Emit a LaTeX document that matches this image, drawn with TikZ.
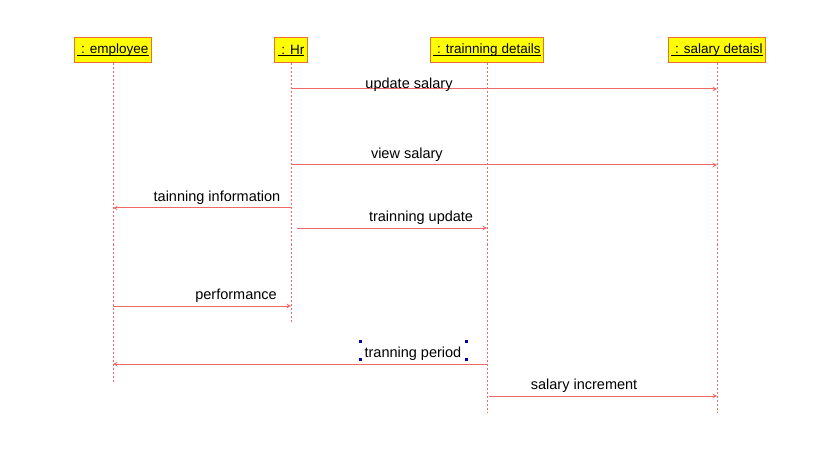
\documentclass[tikz,border=0pt]{standalone}
\usepackage{fontspec}
\setmainfont{Liberation Sans}
\usepackage{tikz}
\usetikzlibrary{shapes, arrows, positioning}
\definecolor{msgred}{RGB}{240,105,105}
\definecolor{boxedge}{RGB}{235,110,50}
\definecolor{boxfill}{RGB}{255,255,0}
\newcommand{\objul}[1]{\setbox0\hbox{#1}\rlap{\rule[-2pt]{\wd0}{0.7pt}}\box0}
\tikzstyle{obj}  = [draw=boxedge, fill=boxfill, line width=1pt, minimum height=25pt, inner xsep=3pt, font=\fontsize{13.5}{16}\selectfont]
\tikzstyle{life} = [draw=msgred, dash pattern=on 2pt off 2pt, line width=1pt]
\tikzstyle{msg}  = [draw=msgred, line width=1pt, -stealth]
\tikzstyle{lbl}  = [anchor=center, yshift=10.5pt, text=black, font=\fontsize{14.5}{17}\selectfont]
\tikzstyle{grip} = [fill=blue!70!black, inner sep=0pt, minimum size=3pt]

\begin{document}
\begin{tikzpicture}[x=1pt, y=-1pt]
\useasboundingbox (0,0) rectangle (826,470);

% objects
\node [obj] at ( 113  , 50.5 ) (emp) {\objul{\ : employee}};
\node [obj] at ( 291  , 50.5 ) (hr)  {\objul{\ : Hr}};
\node [obj] at ( 487  , 50.5 ) (trn) {\objul{\ : trainning details}};
\node [obj] at ( 717  , 50.5 ) (sal) {\objul{\ : salary detaisl}};

% lifeline ends
\coordinate (empend) at ( 113 , 382 );
\coordinate (hrend)  at ( 291 , 323 );
\coordinate (trnend) at ( 487 , 413 );
\coordinate (salend) at ( 717 , 413 );

\draw [life] (emp) -- (empend);
\draw [life] (hr)  -- (hrend);
\draw [life] (trn) -- (trnend);
\draw [life] (sal) -- (salend);

% message ends
\coordinate (hr1)  at ( 291 ,  89 );  \coordinate (sal1) at ( 717 ,  89 );
\coordinate (hr2)  at ( 291 , 165 );  \coordinate (sal2) at ( 717 , 165 );
\coordinate (hr3)  at ( 291 , 208 );  \coordinate (emp3) at ( 113 , 208 );
\coordinate (hr4)  at ( 297 , 228 );  \coordinate (trn4) at ( 487 , 228 );
\coordinate (emp5) at ( 113 , 306 );  \coordinate (hr5)  at ( 291 , 306 );
\coordinate (trn6) at ( 487 , 364 );  \coordinate (emp6) at ( 113 , 364 );
\coordinate (trn7) at ( 489 , 396 );  \coordinate (sal7) at ( 717 , 396 );

% messages
\draw [msg] (hr1)  -- node [lbl, pos=0.277, yshift=-6pt] {update salary}        (sal1);
\draw [msg] (hr2)  -- node [lbl, pos=0.272]              {view salary}          (sal2);
\draw [msg] (hr3)  -- node [lbl, pos=0.416]              {tainning information} (emp3);
\draw [msg] (hr4)  -- node [lbl, pos=0.653]              {trainning update}     (trn4);
\draw [msg] (emp5) -- node [lbl, pos=0.691]              {performance}          (hr5);
\draw [msg] (trn6) -- node [lbl, pos=0.198] (per)        {tranning period}      (emp6);
\draw [msg] (trn7) -- node [lbl, pos=0.417]              {salary increment}     (sal7);

% selection handles
\node [grip] at ( 360 , 341 ) (g1) {};
\node [grip] at ( 466 , 341 ) (g2) {};
\node [grip] at ( 360 , 359 ) (g3) {};
\node [grip] at ( 466 , 359 ) (g4) {};

\end{tikzpicture}
\end{document}
